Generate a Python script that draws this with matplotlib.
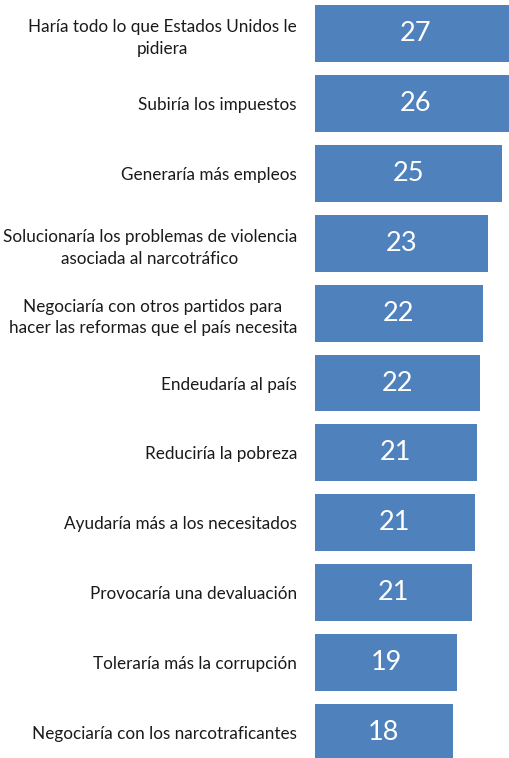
import numpy as np
import matplotlib
matplotlib.use("Agg")
from matplotlib import pyplot as plt

plt.rcParams['font.family'] = ['Lato', 'DejaVu Sans']

# categorías (de arriba hacia abajo)
categorias = [
    "Haría todo lo que Estados Unidos le\npidiera",
    "Subiría los impuestos",
    "Generaría más empleos",
    "Solucionaría los problemas de violencia\nasociada al narcotráfico",
    "Negociaría con otros partidos para\nhacer las reformas que el país necesita",
    "Endeudaría al país",
    "Reduciría la pobreza",
    "Ayudaría más a los necesitados",
    "Provocaría una devaluación",
    "Toleraría más la corrupción",
    "Negociaría con los narcotraficantes",
]
# longitud de barra estimada y etiqueta mostrada
valores = [27.0, 26.9, 25.0, 23.0, 22.3, 21.9, 21.4, 21.1, 20.7, 18.6, 18.0]
etiquetas = [27, 26, 25, 23, 22, 22, 21, 21, 21, 19, 18]

color_barra = "#4F81BD"
x_min, x_max = -1.7, 28.0

fig = plt.figure(figsize=(5.10, 7.58), dpi=100)
# el eje empieza en x=315 px, 7 px por unidad
ancho = (x_max - x_min) * 7 / 510
ax = fig.add_axes([315 / 510, 0, ancho, 1])

y = np.arange(len(categorias))
vals = np.array(valores)
ax.barh(y, vals - x_min, left=x_min, height=0.815, color=color_barra)

for yi, v, e in zip(y, vals, etiquetas):
    ax.text((x_min + v) / 2, yi, str(e), ha='center', va='center',
            color='white', fontsize=19.5)

ax.set_xlim(x_min, x_max)
ax.set_ylim((758 - 33.5) / 69.9, -33.5 / 69.9)
ax.set_yticks(y)
ax.set_yticklabels(categorias, fontsize=12.3, multialignment='center',
                   linespacing=1.45, color='#1a1a1a')
ax.tick_params(axis='y', length=0, pad=13)
ax.set_xticks([])
for s in ax.spines.values():
    s.set_visible(False)

fig.savefig("out.png", dpi=100)
